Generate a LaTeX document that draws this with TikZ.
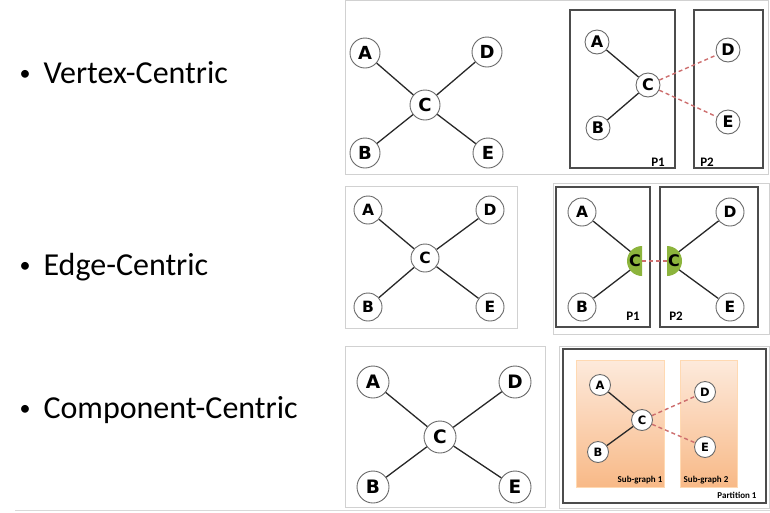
\documentclass[tikz,border=0pt]{standalone}
\usepackage{fontspec}
\setmainfont{Carlito}
\newfontfamily\lettersfont{DejaVu Sans}
\definecolor{cgray}{RGB}{105,105,105}
\definecolor{edgegray}{RGB}{40,40,40}
\definecolor{cutred}{RGB}{205,110,110}
\definecolor{cgreen}{RGB}{140,180,60}
\definecolor{otop}{RGB}{253,234,220}
\definecolor{obottom}{RGB}{248,185,135}

\begin{document}
\begin{tikzpicture}[x=1pt,y=-1pt,
    vertex/.style={circle,draw=cgray,fill=white,line width=0.9pt,inner sep=0pt},
    big node/.style={vertex,minimum size=30pt,font=\lettersfont\bfseries\fontsize{18}{18}\selectfont},
    mid node/.style={vertex,minimum size=28pt,font=\lettersfont\bfseries\fontsize{15.5}{16}\selectfont},
    huge node/.style={vertex,minimum size=32pt,font=\lettersfont\bfseries\fontsize{18.5}{19}\selectfont},
    small node/.style={vertex,minimum size=24pt,font=\lettersfont\bfseries\fontsize{16}{16}\selectfont},
    tiny node/.style={vertex,minimum size=21pt,font=\lettersfont\bfseries\fontsize{11.5}{12}\selectfont},
    link/.style={draw=edgegray,line width=1.3pt},
    cut/.style={draw=cutred,line width=1.4pt,dash pattern=on 4pt off 3pt},
    panel/.style={draw=black!18,line width=0.8pt},
    part box/.style={draw=black!70,line width=1.2pt},
    sub box/.style={top color=otop,bottom color=obottom},
    part label/.style={font=\bfseries\fontsize{13}{13}\selectfont,anchor=base},
    sub label/.style={font=\bfseries\fontsize{9}{9}\selectfont,anchor=base},
    bullet text/.style={font=\fontsize{32}{32}\selectfont,anchor=base west},
    bullet mark/.style={font=\fontsize{22}{22}\selectfont}]

  \useasboundingbox (0,0) rectangle (770,512);

  % bullets
  \node[bullet mark] (m1) at (25,75) {\textbullet};
  \node[bullet text] (t1) at (40,83) {Vertex-Centric};
  \node[bullet mark] (m2) at (25,267) {\textbullet};
  \node[bullet text] (t2) at (40,275) {Edge-Centric};
  \node[bullet mark] (m3) at (25,410) {\textbullet};
  \node[bullet text] (t3) at (40,418) {Component-Centric};

  % panels
  \draw[panel] (345,0.5) rectangle (768,174);
  \draw[panel] (345,186) rectangle (517,328);
  \draw[panel] (553,183) rectangle (769,334);
  \draw[panel] (345,346) rectangle (545,507);
  \draw[panel] (559,346) rectangle (769,508);
  \draw[black!15,line width=0.8pt] (15,510.5) -- (770,510.5);

  % row 1: vertex-centric
  \node[big node] (a1) at (365,53) {A};
  \node[big node] (d1) at (487,52) {D};
  \node[big node] (c1) at (425,105) {C};
  \node[big node] (b1) at (365,153) {B};
  \node[big node] (e1) at (488,153) {E};
  \path[link] (c1) edge (a1) edge (b1) edge (d1) edge (e1);

  \draw[part box] (570,10) rectangle (675,168);
  \draw[part box] (694,10) rectangle (763,168);
  \node[small node] (a2) at (597,42) {A};
  \node[small node] (c2) at (648,85) {C};
  \node[small node] (b2) at (598,128) {B};
  \node[small node] (d2) at (728,50) {D};
  \node[small node] (e2) at (728,122) {E};
  \path[link] (c2) edge (a2) edge (b2);
  \path[cut] (c2) edge (d2) edge (e2);
  \node[part label] (p11) at (658,166) {P1};
  \node[part label] (p12) at (707,166) {P2};

  % row 2: edge-centric
  \node[mid node] (a3) at (368,210) {A};
  \node[mid node] (d3) at (490,210) {D};
  \node[mid node] (c3) at (425,258) {C};
  \node[mid node] (b3) at (368,307) {B};
  \node[mid node] (e3) at (490,307) {E};
  \path[link] (c3) edge (a3) edge (b3) edge (d3) edge (e3);

  \draw[part box] (556,187) rectangle (650,327);
  \draw[part box] (660,187) rectangle (758,327);
  \node[mid node] (a4) at (582,212) {A};
  \node[mid node] (b4) at (582,307) {B};
  \node[mid node] (d4) at (730,212) {D};
  \node[mid node] (e4) at (730,307) {E};
  \coordinate (cl) at (642,261);
  \coordinate (cr) at (667,261);
  \path[link] (cl) edge (a4) edge (b4);
  \path[link] (cr) edge (d4) edge (e4);
  \fill[cgreen] (cl) ++(0,15) arc[start angle=90,end angle=270,radius=15] -- cycle;
  \fill[cgreen] (cr) ++(0,15) arc[start angle=90,end angle=-90,radius=15] -- cycle;
  \path[cut] (cl) edge (cr);
  \node[font=\lettersfont\bfseries\fontsize{16}{16}\selectfont] (cl txt) at (635,261) {C};
  \node[font=\lettersfont\bfseries\fontsize{16}{16}\selectfont] (cr txt) at (674,261) {C};
  \node[part label] (p21) at (633,320) {P1};
  \node[part label] (p22) at (676,320) {P2};

  % row 3: component-centric
  \node[huge node] (a5) at (373,382) {A};
  \node[huge node] (d5) at (515,382) {D};
  \node[huge node] (c5) at (440,437) {C};
  \node[huge node] (b5) at (373,487) {B};
  \node[huge node] (e5) at (515,487) {E};
  \path[link] (c5) edge (a5) edge (b5) edge (d5) edge (e5);

  \draw[part box] (563,349) rectangle (766,503);
  \shade[sub box] (576,360) rectangle (664,487);
  \shade[sub box] (680,360) rectangle (737,487);
  \draw[orange!30,line width=0.6pt] (576,360) rectangle (664,487) (680,360) rectangle (737,487);
  \node[tiny node] (a6) at (600,385) {A};
  \node[tiny node] (c6) at (642,420) {C};
  \node[tiny node] (b6) at (598,452) {B};
  \node[tiny node] (d6) at (705,392) {D};
  \node[tiny node] (e6) at (705,447) {E};
  \path[link] (c6) edge (a6) edge (b6);
  \path[cut] (c6) edge (d6) edge (e6);
  \node[sub label] (s1) at (640,482) {Sub-graph 1};
  \node[sub label] (s2) at (706,482) {Sub-graph 2};
  \node[sub label] (q1) at (737,498) {Partition 1};
\end{tikzpicture}
\end{document}
